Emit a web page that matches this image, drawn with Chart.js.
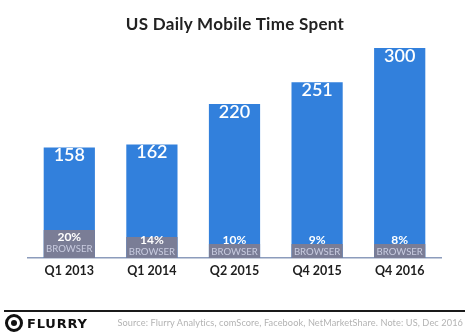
<!DOCTYPE html>
<html>
<head>
<meta charset="utf-8">
<script src="https://cdn.jsdelivr.net/npm/chart.js@4"></script>
<style>
  html, body { margin: 0; padding: 0; background: #fff; }
  #wrap { position: relative; width: 470px; height: 333px; overflow: hidden; font-family: Lato, 'Open Sans', sans-serif; }
  #c { position: absolute; left: 0; top: 0; }
  #title { position: absolute; left: 0; width: 470px; top: 13px; text-align: center; font-size: 17px; font-weight: 700; color: #222; letter-spacing: 0.3px; }
  #rule { position: absolute; left: 4px; width: 461px; top: 310px; height: 2px; background: #1a1a1a; }
  #logo { position: absolute; left: 5px; top: 314px; height: 18px; display: flex; align-items: center; gap: 4px; }
  #logo i { display: inline-block; width: 12px; height: 12px; border-radius: 50%; border: 3px solid #111; box-sizing: content-box; position: relative; }
  #logo i::after { content: ''; position: absolute; left: 3px; top: 3px; width: 6px; height: 6px; border-radius: 50%; background: #111; }
  #logo b { font-family: 'DejaVu Sans', sans-serif; font-size: 13px; font-weight: 900; letter-spacing: 0.8px; color: #111; }
  #src { position: absolute; right: 7px; top: 317px; font-size: 9.2px; color: #b3b3b3; white-space: nowrap; letter-spacing: 0.1px; }
</style>
</head>
<body>
<div id="wrap">
  <canvas id="c" width="470" height="333"></canvas>
  <div id="title">US Daily Mobile Time Spent</div>
  <div id="rule"></div>
  <div id="logo"><i></i><b>FLURRY</b></div>
  <div id="src">Source: Flurry Analytics, comScore, Facebook, NetMarketShare. Note: US, Dec 2016</div>
</div>
<script>
// ── data ─────────────────────────────────────────────────────
const quarters   = ['Q1 2013', 'Q1 2014', 'Q2 2015', 'Q4 2015', 'Q4 2016']
const totalMins  = [158, 162, 220, 251, 300]
const browserPct = ['20%', '14%', '10%', '9%', '8%']
const browserSeg = [40, 30, 20, 20, 20]   // drawn height of grey segment, in minutes

const BLUE = '#3280dc'
const GREY = '#7a7d96'

// labels inside the bars
const barLabels = {
  id: 'barLabels',
  afterDatasetsDraw(chart) {
    const ctx = chart.ctx
    const tot = chart.getDatasetMeta(1).data
    const brw = chart.getDatasetMeta(0).data
    const base = chart.scales.y.getPixelForValue(0)
    ctx.save()
    ctx.textAlign = 'center'
    ctx.textBaseline = 'middle'
    tot.forEach((bar, i) => {
      ctx.fillStyle = '#fff'
      ctx.font = '600 18px Lato, sans-serif'
      ctx.fillText(String(totalMins[i]), bar.x, bar.y + 8)

      const gTop = brw[i].y
      const by = Math.min(base - 6, (gTop + base) / 2 + 5)
      ctx.font = '9.6px Lato, sans-serif'
      ctx.fillStyle = '#c9cce0'
      ctx.fillText('BROWSER', bar.x, by)
      ctx.font = 'bold 12px Lato, sans-serif'
      ctx.fillStyle = '#fff'
      ctx.fillText(browserPct[i], bar.x, by - 12)
    })
    ctx.restore()
  },
}

new Chart(document.getElementById('c'), {
  type: 'bar',
  data: {
    labels: quarters,
    datasets: [
      { label: 'Browser', data: browserSeg, backgroundColor: GREY, order: 0 },
      { label: 'Total',   data: totalMins,  backgroundColor: BLUE, order: 1 },
    ],
  },
  options: {
    responsive: false, animation: false,
    layout: { padding: { left: 28, right: 29, top: 48, bottom: 50 } },
    datasets: { bar: { barPercentage: 0.62, categoryPercentage: 1 } },
    scales: {
      x: {
        stacked: true,
        grid: { display: false, drawTicks: false },
        border: { display: true, color: '#8c9cbc', width: 1.5 },
        ticks: { color: '#1e1e1e', padding: 5, font: { size: 12.5, weight: 'bold', family: 'Lato, sans-serif' } },
      },
      y: { display: false, min: 0, max: 300 },
    },
    plugins: { legend: { display: false }, tooltip: { enabled: false } },
  },
  plugins: [barLabels],
})
</script>
</body>
</html>
